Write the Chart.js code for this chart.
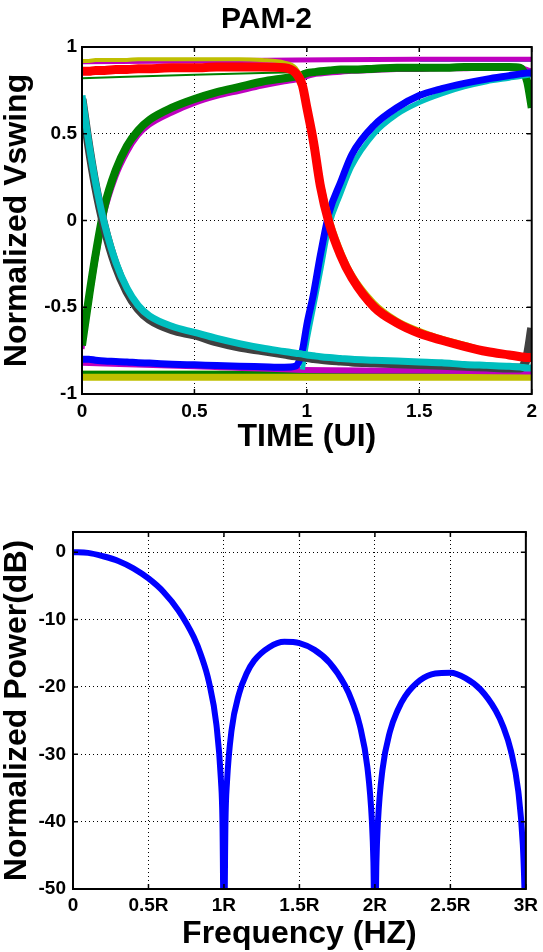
<!DOCTYPE html>
<html>
<head>
<meta charset="utf-8">
<script src="https://cdn.jsdelivr.net/npm/chart.js@4.4.1/dist/chart.umd.min.js"></script>
<style>
  html, body { margin: 0; padding: 0; background: #fff; }
  #top { position: absolute; left: 0; top: 0; width: 543px; height: 470px; }
  #bottom { position: absolute; left: 0; top: 470px; width: 543px; height: 482px; }
</style>
</head>
<body>
<div id="top"><canvas id="eye"></canvas></div>
<div id="bottom"><canvas id="spectrum"></canvas></div>
<script>
// ---- eye diagram (PAM-2) ----
const ui = [0, 0.03, 0.06, 0.1, 0.15, 0.2, 0.25, 0.3, 0.4, 0.5, 0.6, 0.7, 0.8, 0.9, 0.95, 0.98, 1.0, 1.03, 1.06, 1.1, 1.15, 1.2, 1.3, 1.4, 1.5, 1.6, 1.7, 1.8, 1.9, 1.95, 1.98, 2.0];
const riseGreen = [-0.72, -0.45, -0.2, 0.08, 0.29, 0.43, 0.52, 0.58, 0.65, 0.70, 0.74, 0.77, 0.80, 0.82, 0.83, 0.84, 0.85, 0.855, 0.86, 0.865, 0.87, 0.87, 0.875, 0.88, 0.88, 0.88, 0.885, 0.885, 0.885, 0.88, 0.8, 0.65];
const riseMagenta = [-0.74, -0.48, -0.24, 0.04, 0.25, 0.39, 0.49, 0.55, 0.62, 0.675, 0.715, 0.745, 0.775, 0.80, 0.81, 0.82, 0.83, 0.84, 0.845, 0.85, 0.855, 0.86, 0.865, 0.87, 0.87, 0.875, 0.875, 0.88, 0.88, 0.88, 0.87, 0.86];
const fallCyan = [0.72, 0.45, 0.22, -0.02, -0.24, -0.39, -0.49, -0.55, -0.61, -0.645, -0.68, -0.71, -0.735, -0.755, -0.765, -0.77, -0.775, -0.78, -0.785, -0.79, -0.795, -0.80, -0.805, -0.81, -0.815, -0.82, -0.83, -0.835, -0.84, -0.845, -0.85, -0.85];
const fallGray = [0.70, 0.43, 0.20, -0.04, -0.26, -0.41, -0.51, -0.57, -0.63, -0.66, -0.70, -0.73, -0.75, -0.77, -0.78, -0.785, -0.79, -0.795, -0.80, -0.805, -0.81, -0.815, -0.82, -0.825, -0.83, -0.835, -0.84, -0.845, -0.85, -0.85, -0.78, -0.62];
const fallRed = [0.86, 0.86, 0.865, 0.865, 0.87, 0.87, 0.875, 0.875, 0.88, 0.88, 0.885, 0.885, 0.885, 0.88, 0.85, 0.78, 0.65, 0.45, 0.2, -0.02, -0.2, -0.33, -0.5, -0.59, -0.65, -0.69, -0.725, -0.755, -0.775, -0.785, -0.79, -0.79];
const fallYellow = [0.92, 0.92, 0.925, 0.925, 0.925, 0.925, 0.93, 0.93, 0.93, 0.93, 0.93, 0.93, 0.925, 0.91, 0.88, 0.81, 0.69, 0.5, 0.26, 0.03, -0.16, -0.3, -0.47, -0.57, -0.63, -0.675, -0.71, -0.745, -0.765, -0.775, -0.78, -0.78];
const riseBlue = [-0.80, -0.80, -0.805, -0.81, -0.812, -0.815, -0.82, -0.822, -0.828, -0.832, -0.836, -0.84, -0.843, -0.846, -0.84, -0.75, -0.6, -0.42, -0.2, 0.05, 0.22, 0.38, 0.55, 0.65, 0.72, 0.76, 0.79, 0.815, 0.835, 0.845, 0.85, 0.85];
const riseCyan = [null, null, null, null, null, null, null, null, null, null, null, null, null, null, null, -0.86, -0.7, -0.5, -0.3, -0.03, 0.15, 0.31, 0.5, 0.61, 0.68, 0.73, 0.77, 0.80, 0.82, 0.83, 0.835, 0.84];

// flat traces, sampled coarser
const uiFlat = [0, 0.5, 0.95, 1.5, 2];
const topMagenta = [0.915, 0.92, 0.925, 0.93, 0.93];
const topCyan = [null, null, null, 0.925, 0.925];
const topGreenThin = [0.82, 0.84, 0.855, null, null];
const lowMagenta = [-0.82, -0.84, -0.86, -0.865, -0.87];
const lowCyan = [null, null, -0.865, -0.87, -0.875];
const lowGreen = [-0.875, -0.875, -0.875, -0.875, -0.875];
const lowYellow = [-0.895, -0.895, -0.895, -0.895, -0.895];

const vswingTicks = [-1, -0.5, 0, 0.5, 1];
const uiTicks = [0, 0.5, 1, 1.5, 2];

// ---- spectrum ----
const freq = [0, 0.1, 0.2, 0.3, 0.4, 0.5, 0.6, 0.7, 0.8, 0.85, 0.9, 0.95, 0.98, 0.99, 1.0, 1.01, 1.02, 1.05, 1.1, 1.15, 1.2, 1.3, 1.4, 1.5, 1.6, 1.7, 1.8, 1.85, 1.9, 1.95, 1.98, 1.99, 2.0, 2.01, 2.02, 2.05, 2.1, 2.15, 2.2, 2.3, 2.4, 2.5, 2.6, 2.7, 2.8, 2.85, 2.9, 2.95, 2.98, 2.99, 3.0];
const power = [0, -0.1, -0.6, -1.3, -2.4, -3.9, -5.9, -8.7, -12.6, -15.4, -19.2, -25.6, -33.8, -39.9, -60, -40.1, -34.2, -26.5, -21.0, -18.0, -16.1, -14.1, -13.3, -13.5, -14.5, -16.4, -19.7, -22.2, -25.7, -31.9, -39.9, -46.0, -60, -46.1, -40.1, -32.3, -26.6, -23.5, -21.4, -19.0, -18.0, -17.9, -18.7, -20.4, -23.5, -25.9, -29.4, -35.5, -43.5, -49.5, -60];
const freqTicks = [0, 0.5, 1, 1.5, 2, 2.5, 3];
const freqLabels = ['0', '0.5R', '1R', '1.5R', '2R', '2.5R', '3R'];
const powerTicks = [0, -10, -20, -30, -40, -50];

const FONT = "'Liberation Sans', Arial, sans-serif";

function pts(xs, ys) {
  return xs.map((x, i) => ({ x: x, y: ys[i] }));
}

function trace(xs, ys, color, width) {
  return {
    data: pts(xs, ys),
    borderColor: color,
    borderWidth: width,
    pointRadius: 0,
    cubicInterpolationMode: 'monotone',
    fill: false,
    spanGaps: false
  };
}

// solid box and inward tick marks like MATLAB axes
const boxPlugin = {
  id: 'box',
  afterDatasetsDraw(chart) {
    const { ctx, chartArea: a, scales } = chart;
    ctx.save();
    ctx.strokeStyle = '#000';
    ctx.lineWidth = 1.5;
    scales.x.ticks.forEach(t => {
      const px = scales.x.getPixelForValue(t.value);
      ctx.beginPath();
      ctx.moveTo(px, a.bottom); ctx.lineTo(px, a.bottom - 5);
      ctx.moveTo(px, a.top); ctx.lineTo(px, a.top + 5);
      ctx.stroke();
    });
    scales.y.ticks.forEach(t => {
      const py = scales.y.getPixelForValue(t.value);
      ctx.beginPath();
      ctx.moveTo(a.left, py); ctx.lineTo(a.left + 5, py);
      ctx.moveTo(a.right, py); ctx.lineTo(a.right - 5, py);
      ctx.stroke();
    });
    ctx.lineWidth = 2;
    ctx.strokeRect(a.left, a.top, a.right - a.left, a.bottom - a.top);
    ctx.restore();
  }
};

function axis(min, max, tickVals, labels, titleText, titlePad, tickPad, size, isX) {
  return {
    type: 'linear',
    min: min,
    max: max,
    afterBuildTicks: s => { s.ticks = tickVals.map(v => ({ value: v })); },
    afterFit: s => { if (isX) s.height = size; else s.width = size; },
    grid: { color: '#000', lineWidth: 1, drawTicks: false },
    border: { display: false, dash: [1, 3] },
    ticks: {
      color: '#000',
      padding: tickPad,
      font: { family: FONT, size: 19, weight: 'bold' },
      callback: (v, i) => labels ? labels[i] : String(v)
    },
    title: {
      display: true,
      text: titleText,
      color: '#000',
      padding: titlePad,
      font: { family: FONT, size: 32, weight: 'bold', lineHeight: 1.1 }
    }
  };
}

// draw order: first dataset ends up on top
const eyeSets = [
  trace(ui, fallRed, '#ff0000', 9),
  trace(ui, fallYellow, '#bfbf00', 4),
  trace(ui, fallCyan, '#00bfbf', 7),
  trace(ui, fallGray, '#404040', 9),
  trace(ui, riseBlue, '#0000ff', 7),
  trace(ui, riseCyan, '#00bfbf', 5),
  trace(ui, riseGreen, '#008000', 8),
  trace(ui, riseMagenta, '#bf00bf', 5),
  trace(uiFlat, topMagenta, '#bf00bf', 5),
  trace(uiFlat, topCyan, '#00bfbf', 4),
  trace(uiFlat, topGreenThin, '#008000', 2),
  trace(uiFlat, lowMagenta, '#bf00bf', 6),
  trace(uiFlat, lowCyan, '#00bfbf', 3),
  trace(uiFlat, lowGreen, '#008000', 3),
  trace(uiFlat, lowYellow, '#bfbf00', 10)
];

new Chart(document.getElementById('eye'), {
  type: 'line',
  data: { datasets: eyeSets },
  options: {
    responsive: true,
    maintainAspectRatio: false,
    animation: false,
    layout: { padding: { left: 0, right: 10, top: 0, bottom: 0 } },
    scales: {
      x: axis(0, 2, uiTicks, null, 'TIME (UI)', { top: 0, bottom: 15 }, 6, 76, true),
      y: axis(-1, 1, vswingTicks, null, 'Normalized Vswing', { top: 0, bottom: 0 }, 5, 82, false)
    },
    plugins: {
      legend: { display: false },
      tooltip: { enabled: false },
      title: {
        display: true,
        text: 'PAM-2',
        color: '#000',
        padding: { top: 2, bottom: 9 },
        font: { family: FONT, size: 30, weight: 'bold' }
      }
    }
  },
  plugins: [boxPlugin]
});

new Chart(document.getElementById('spectrum'), {
  type: 'line',
  data: {
    datasets: [Object.assign(trace(freq, power, '#0000ff', 6), { clip: 0 })]
  },
  options: {
    responsive: true,
    maintainAspectRatio: false,
    animation: false,
    layout: { padding: { left: 0, right: 9, top: 62, bottom: 0 } },
    scales: {
      x: axis(0, 3, freqTicks, freqLabels, 'Frequency (HZ)', { top: 0, bottom: 0 }, 5, 63, true),
      y: axis(-50, 3, powerTicks, null, 'Normalized Power(dB)', { top: 0, bottom: 0 }, 7, 73, false)
    },
    plugins: {
      legend: { display: false },
      tooltip: { enabled: false }
    }
  },
  plugins: [boxPlugin]
});
</script>
</body>
</html>
